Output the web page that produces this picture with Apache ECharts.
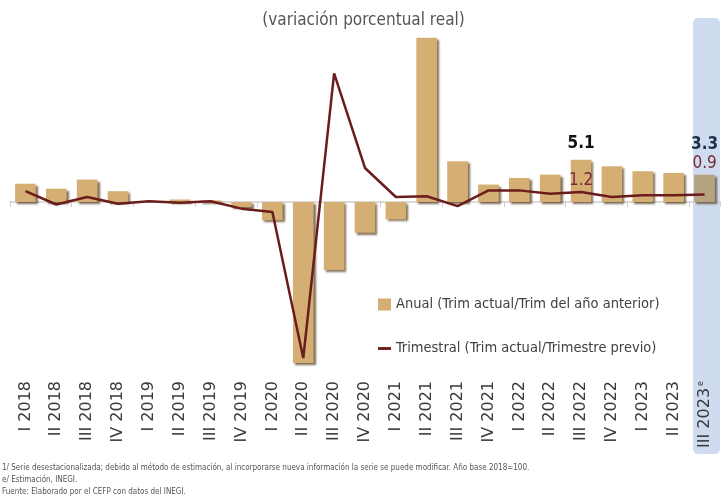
<!DOCTYPE html>
<html>
<head>
<meta charset="utf-8">
<script src="https://cdn.jsdelivr.net/npm/echarts@6/dist/echarts.min.js"></script>
<style>
  html, body { margin: 0; padding: 0; background: #fff; }
  #pib { width: 727px; height: 504px; }
</style>
</head>
<body>
<div id="pib"></div>
<script>
// trimestres (2018 - 2023)
var trimestres = ['I 2018', 'II 2018', 'III 2018', 'IV 2018',
  'I 2019', 'II 2019', 'III 2019', 'IV 2019',
  'I 2020', 'II 2020', 'III 2020', 'IV 2020',
  'I 2021', 'II 2021', 'III 2021', 'IV 2021',
  'I 2022', 'II 2022', 'III 2022', 'IV 2022',
  'I 2023', 'II 2023', 'III 2023'];

// variacion anual (trim actual / trim del año anterior)
var anual = [2.2, 1.6, 2.7, 1.3, 0.0, 0.3, 0.2, -0.6,
  -2.2, -19.4, -8.2, -3.7, -2.1, 19.8, 4.9, 2.1,
  2.9, 3.3, 5.1, 4.3, 3.7, 3.5, 3.3];

// variacion trimestral (trim actual / trimestre previo)
var trimestral = [1.3, -0.3, 0.6, -0.2, 0.1, -0.1, 0.1, -0.8,
  -1.2, -18.8, 15.5, 4.1, 0.6, 0.7, -0.5, 1.4,
  1.4, 1.0, 1.2, 0.6, 0.8, 0.8, 0.9];

var nombreAnual = 'Anual (Trim actual/Trim del año anterior)';
var nombreTrim = 'Trimestral (Trim actual/Trimestre previo)';
var narrow = "'Liberation Sans Narrow', 'DejaVu Sans Condensed', sans-serif";
var ultimo = trimestres.length - 1;
var idxDestacado = 18; // III 2022

var dataAnual = anual.map(function (v, i) {
  var d = { value: v };
  if (i === idxDestacado) {
    d.label = { show: true, position: 'top', distance: 8, color: '#111', fontWeight: 'bold' };
  }
  if (i === ultimo) {
    d.itemStyle = { color: '#b5a382' };
    d.label = { show: true, position: 'top', distance: 22, color: '#1f2d45', fontWeight: 'bold' };
  }
  return d;
});

var dataTrim = trimestral.map(function (v, i) {
  var d = { value: v };
  if (i === idxDestacado) {
    d.label = { show: true, position: 'top', distance: 3 };
  }
  if (i === ultimo) {
    d.label = { show: true, position: 'top', distance: 22 };
  }
  return d;
});

var chart = echarts.init(document.getElementById('pib'));
var option = {
  animation: false,
  title: {
    text: '(variación porcentual real)',
    left: 'center',
    top: 7,
    textStyle: { fontSize: 17, fontWeight: 'normal', color: '#555', fontFamily: narrow }
  },
  legend: {
    orient: 'vertical',
    left: 373,
    top: 292,
    itemWidth: 13,
    itemHeight: 12,
    itemGap: 29,
    textStyle: { fontSize: 14.5, color: '#404040', fontFamily: narrow },
    data: [
      { name: nombreAnual, icon: 'rect' },
      { name: nombreTrim, icon: 'path://M0,0H10V2.2H0Z' }
    ]
  },
  grid: { left: 10, right: 7, top: 36, bottom: 136 },
  xAxis: [{
    type: 'category',
    data: trimestres,
    position: 'bottom',
    axisLine: { onZero: true, lineStyle: { color: '#d0d0d0', width: 1.5 } },
    axisTick: { show: true, length: 5, lineStyle: { color: '#cfcfcf' } },
    axisLabel: { show: false }
  }, {
    type: 'category',
    data: trimestres,
    position: 'bottom',
    axisLine: { show: false, onZero: false },
    axisTick: { show: false },
    axisLabel: {
      rotate: 90,
      margin: 13,
      fontSize: 16,
      color: '#3a3a3a',
      fontFamily: 'DejaVu Sans',
      formatter: function (v, i) {
        return i === ultimo ? v + '{e|e}' : v;
      },
      rich: { e: { fontSize: 8, color: '#3a3a3a', padding: [0, 0, 8, 2] } }
    }
  }],
  yAxis: {
    type: 'value',
    min: -20,
    max: 20,
    show: false,
    splitLine: { show: false }
  },
  graphic: [
    {
      type: 'rect',
      z: -10,
      shape: { x: 693, y: 18, width: 27, height: 436, r: 5 },
      style: { fill: '#cfdcf0' }
    },
    {
      type: 'text', left: 2, top: 464,
      style: { text: '1/ Serie desestacionalizada; debido al método de estimación, al incorporarse nueva información la serie se puede modificar. Año base 2018=100.',
        fill: '#555', font: '8px ' + narrow }
    },
    {
      type: 'text', left: 2, top: 476,
      style: { text: 'e/ Estimación, INEGI.', fill: '#555', font: '8px ' + narrow }
    },
    {
      type: 'text', left: 2, top: 488,
      style: { text: 'Fuente: Elaborado por el CEFP con datos del INEGI.', fill: '#555', font: '8px ' + narrow }
    }
  ],
  series: [{
    name: nombreAnual,
    type: 'bar',
    xAxisIndex: 0,
    barWidth: '67%',
    data: dataAnual,
    itemStyle: {
      color: '#d5ae74',
      shadowColor: 'rgba(80, 60, 30, 0.75)',
      shadowOffsetX: 2,
      shadowOffsetY: 2,
      shadowBlur: 2
    },
    label: { show: false, fontSize: 17, fontFamily: narrow }
  }, {
    name: nombreTrim,
    type: 'line',
    xAxisIndex: 0,
    data: dataTrim,
    symbol: 'circle',
    symbolSize: 0,
    lineStyle: { color: '#6b1c1c', width: 2.5 },
    itemStyle: { color: '#6b1c1c' },
    label: { show: false, fontSize: 17, color: '#7a2a35', fontFamily: narrow }
  }]
};
chart.setOption(option);
</script>
</body>
</html>
